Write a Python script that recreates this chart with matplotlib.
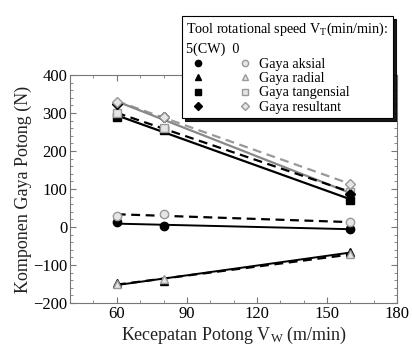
import numpy as np
import matplotlib
matplotlib.use("Agg")
import matplotlib.pyplot as plt
from matplotlib.ticker import MultipleLocator

plt.rcParams['font.family'] = ['Liberation Serif', 'DejaVu Serif']
plt.rcParams['mathtext.fontset'] = 'stix'

# cutting speed (m/min)
speed = [60, 80, 160]

# CW series (black markers)
aksial_cw = [12, 2, -5]
radial_cw = [-148, -142, -66]
tangen_cw = [290, 255, 72]
result_cw = [325, 290, 88]

# 0 series (grey markers)
aksial_0 = [30, 34, 12]
radial_0 = [-150, -138, -72]
tangen_0 = [300, 260, 92]
result_0 = [330, 290, 113]

labels = ['Gaya aksial', 'Gaya radial', 'Gaya tangensial', 'Gaya resultant']

fig = plt.figure(figsize=(4.12, 3.56), dpi=100)
ax = fig.add_axes([0.170, 0.149, 0.794, 0.640])

x = np.array(speed)
xf = np.array([60, 160])

def fit(y):
    p = np.polyfit(x, y, 1)
    return np.polyval(p, xf)

# trend lines
ax.plot(xf, fit(result_0), '--', color='#999999', lw=1.6, dashes=(4, 2.5))
ax.plot(xf, fit(result_cw), '-', color='#888888', lw=1.6)
ax.plot(xf, fit(tangen_0), '--', color='black', lw=1.6, dashes=(4, 2.5))
ax.plot(xf, fit(tangen_cw), '-', color='black', lw=1.6)
ax.plot(xf, fit(aksial_0), '--', color='black', lw=1.6, dashes=(4, 2.5))
ax.plot(xf, fit(aksial_cw), '-', color='black', lw=1.4)
ax.plot(xf, fit(radial_0), '--', color='black', lw=1.6, dashes=(4, 2.5))
ax.plot(xf, fit(radial_cw), '-', color='black', lw=1.4)

# markers
mk = ['o', '^', 's', 'D']
cw_series = [aksial_cw, radial_cw, tangen_cw, result_cw]
o_series = [aksial_0, radial_0, tangen_0, result_0]
h_cw = []
h_0 = []
for m, ycw, y0 in zip(mk, cw_series, o_series):
    ms = 6 if m != 'D' else 5.5
    a = ax.plot(x, ycw, linestyle='none', marker=m, ms=ms, color='black')[0]
    b = ax.plot(x, y0, linestyle='none', marker=m, ms=ms, markerfacecolor='#e6e6e6',
                markeredgecolor='#999999', markeredgewidth=1.0)[0]
    h_cw.append(a)
    h_0.append(b)

ax.set_xlim(40, 180)
ax.set_ylim(-200, 400)
ax.xaxis.set_major_locator(MultipleLocator(30))
ax.xaxis.set_minor_locator(MultipleLocator(10))
ax.yaxis.set_major_locator(MultipleLocator(100))
ax.yaxis.set_minor_locator(MultipleLocator(20))
ax.tick_params(which='both', direction='in', top=True, right=True, color='#777777',
               labelsize=12, pad=2)
ax.tick_params(which='major', length=4)
ax.tick_params(which='minor', length=2)
for s in ax.spines.values():
    s.set_color('#777777')
    s.set_linewidth(0.8)

ax.set_xlabel('Kecepatan Potong $\\mathregular{V_W}$ (m/min)', fontsize=13, color='#222222', labelpad=2)
ax.set_ylabel('Komponen Gaya Potong (N)', fontsize=13, color='#222222', labelpad=1)

handles = h_cw + h_0
leg_labels = [''] * 4 + labels
leg = fig.legend(handles, leg_labels, ncol=2, loc='upper right',
                 bbox_to_anchor=(0.971, 0.975), fontsize=10.2,
                 title='Tool rotational speed $\\mathregular{V_T}$(min/min):\n5(CW)  0',
                 title_fontsize=10.2, frameon=True, fancybox=False,
                 shadow={'color': 'black', 'alpha': 0.9},
                 edgecolor='black', handlelength=1.6, handletextpad=0.2,
                 columnspacing=1.5, labelspacing=0.1, borderpad=0.3, markerscale=0.75)
leg._legend_box.align = 'left'
leg.get_title().set_linespacing(1.5)
leg.get_frame().set_linewidth(0.8)

fig.savefig('out.png', dpi=100)
